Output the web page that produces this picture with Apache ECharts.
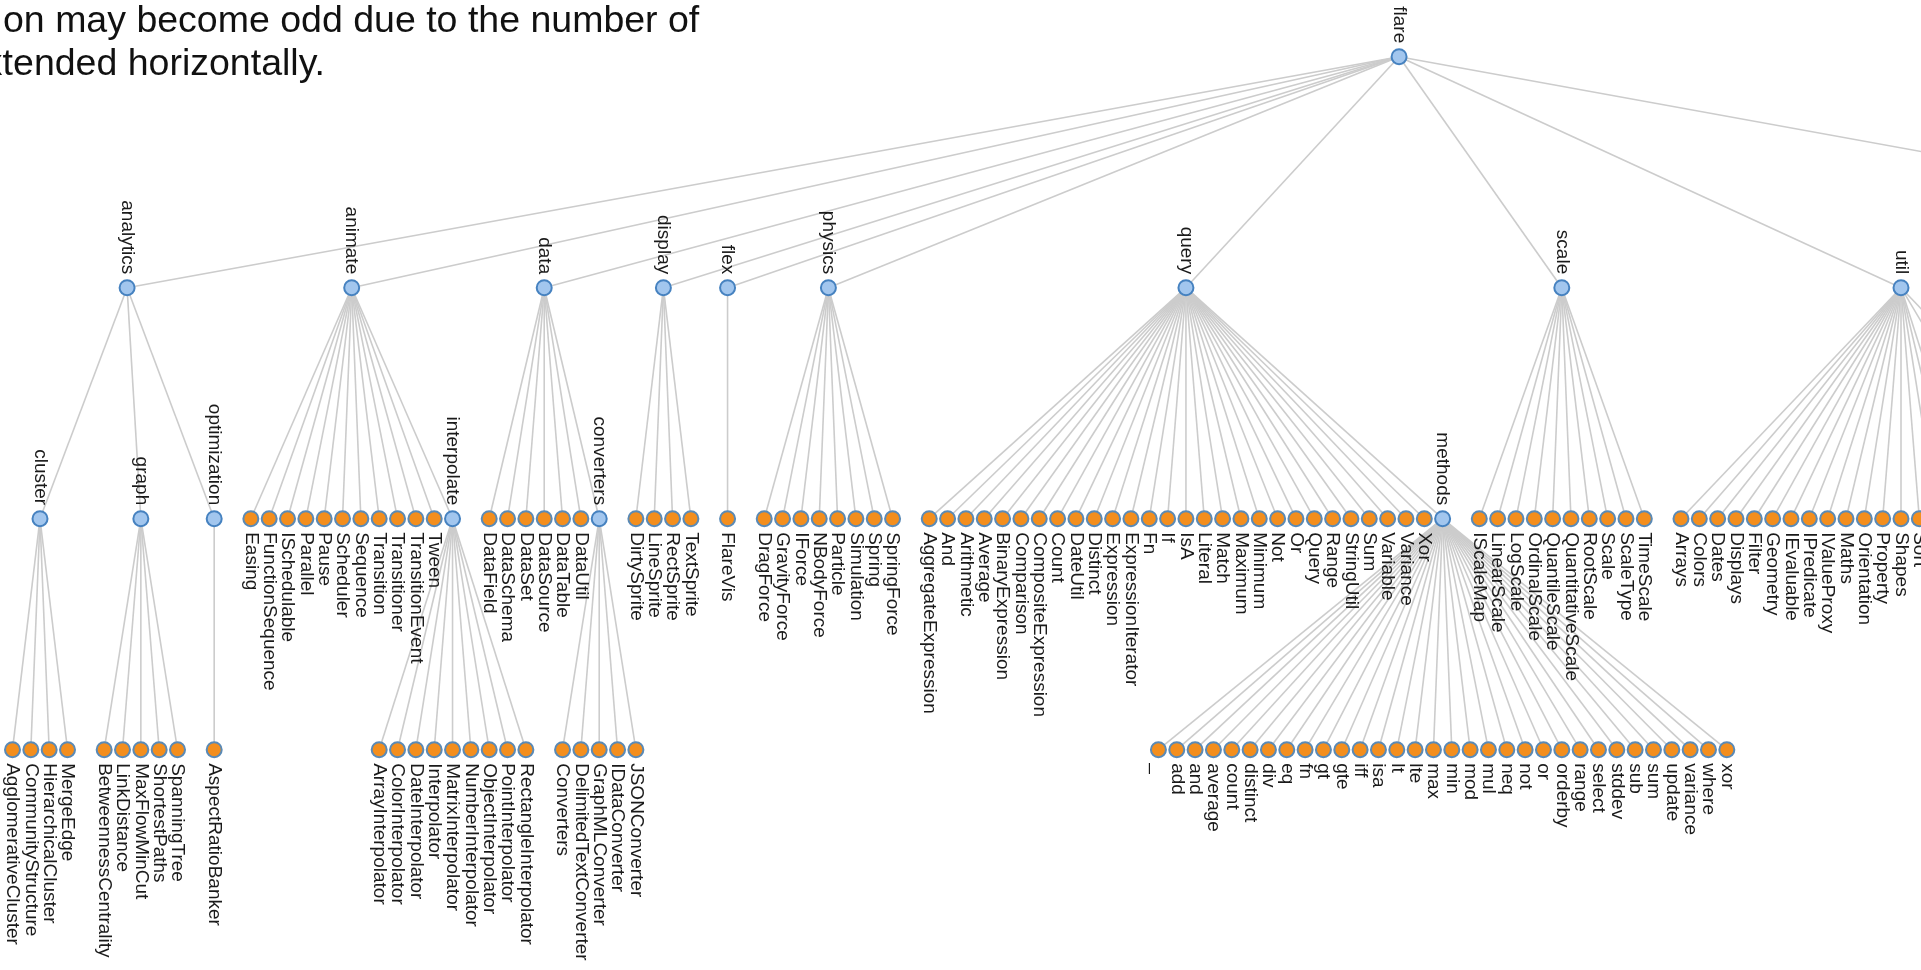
<!DOCTYPE html>
<html>
<head>
<meta charset="utf-8">
<title>flare tree</title>
<script src="https://cdn.jsdelivr.net/npm/echarts@6/dist/echarts.min.js"></script>
<style>
  html, body { margin: 0; padding: 0; background: #fff; }
  #main { width: 1921px; height: 970px; }
</style>
</head>
<body>
<div id="main"></div>
<script>
// --- tree data (leaves first, then sub-packages) ---
var clusterLeaves = ['AgglomerativeCluster', 'CommunityStructure', 'HierarchicalCluster', 'MergeEdge'];
var graphLeaves = ['BetweennessCentrality', 'LinkDistance', 'MaxFlowMinCut', 'ShortestPaths', 'SpanningTree'];
var optimizationLeaves = ['AspectRatioBanker'];
var animateLeaves = ['Easing', 'FunctionSequence', 'ISchedulable', 'Parallel', 'Pause', 'Scheduler', 'Sequence',
  'Transition', 'Transitioner', 'TransitionEvent', 'Tween'];
var interpolateLeaves = ['ArrayInterpolator', 'ColorInterpolator', 'DateInterpolator', 'Interpolator',
  'MatrixInterpolator', 'NumberInterpolator', 'ObjectInterpolator', 'PointInterpolator', 'RectangleInterpolator'];
var dataLeaves = ['DataField', 'DataSchema', 'DataSet', 'DataSource', 'DataTable', 'DataUtil'];
var convertersLeaves = ['Converters', 'DelimitedTextConverter', 'GraphMLConverter', 'IDataConverter', 'JSONConverter'];
var displayLeaves = ['DirtySprite', 'LineSprite', 'RectSprite', 'TextSprite'];
var flexLeaves = ['FlareVis'];
var physicsLeaves = ['DragForce', 'GravityForce', 'IForce', 'NBodyForce', 'Particle', 'Simulation', 'Spring', 'SpringForce'];
var queryLeaves = ['AggregateExpression', 'And', 'Arithmetic', 'Average', 'BinaryExpression', 'Comparison',
  'CompositeExpression', 'Count', 'DateUtil', 'Distinct', 'Expression', 'ExpressionIterator', 'Fn', 'If', 'IsA',
  'Literal', 'Match', 'Maximum', 'Minimum', 'Not', 'Or', 'Query', 'Range', 'StringUtil', 'Sum', 'Variable',
  'Variance', 'Xor'];
var methodsLeaves = ['_', 'add', 'and', 'average', 'count', 'distinct', 'div', 'eq', 'fn', 'gt', 'gte', 'iff', 'isa',
  'lt', 'lte', 'max', 'min', 'mod', 'mul', 'neq', 'not', 'or', 'orderby', 'range', 'select', 'stddev', 'sub', 'sum',
  'update', 'variance', 'where', 'xor'];
var scaleLeaves = ['IScaleMap', 'LinearScale', 'LogScale', 'OrdinalScale', 'QuantileScale', 'QuantitativeScale',
  'RootScale', 'Scale', 'ScaleType', 'TimeScale'];
var utilLeaves = ['Arrays', 'Colors', 'Dates', 'Displays', 'Filter', 'Geometry', 'IEvaluable', 'IPredicate',
  'IValueProxy', 'Maths', 'Orientation', 'Property', 'Shapes', 'Sort', 'Stats', 'Strings'];
var heapLeaves = ['FibonacciHeap', 'HeapNode'];
var mathLeaves = ['DenseMatrix', 'IMatrix', 'SparseMatrix'];
var paletteLeaves = ['ColorPalette', 'Palette', 'ShapePalette', 'SizePalette'];
var visLeaves = ['Visualization'];
var axisLeaves = ['Axes', 'Axis', 'AxisGridLine', 'AxisLabel', 'CartesianAxes'];
var controlsLeaves = ['AnchorControl', 'ClickControl', 'Control', 'ControlList', 'DragControl', 'ExpandControl',
  'HoverControl', 'IControl', 'PanZoomControl', 'SelectionControl', 'TooltipControl'];
var visDataLeaves = ['Data', 'DataList', 'DataSprite', 'EdgeSprite', 'NodeSprite', 'ScaleBinding', 'Tree', 'TreeBuilder'];
var renderLeaves = ['ArrowType', 'EdgeRenderer', 'IRenderer', 'ShapeRenderer'];
var eventsLeaves = ['DataEvent', 'SelectionEvent', 'TooltipEvent', 'VisualizationEvent'];
var legendLeaves = ['Legend', 'LegendItem', 'LegendRange'];
var operatorLeaves = ['IOperator', 'Operator', 'OperatorList', 'OperatorSequence', 'OperatorSwitch', 'SortOperator'];
var distortionLeaves = ['BifocalDistortion', 'Distortion', 'FisheyeDistortion'];
var encoderLeaves = ['ColorEncoder', 'Encoder', 'PropertyEncoder', 'ShapeEncoder', 'SizeEncoder'];
var filterLeaves = ['FisheyeTreeFilter', 'GraphDistanceFilter', 'VisibilityFilter'];
var labelLeaves = ['Labeler', 'RadialLabeler', 'StackedAreaLabeler'];
var layoutLeaves = ['AxisLayout', 'BundledEdgeRouter', 'CircleLayout', 'CirclePackingLayout', 'DendrogramLayout',
  'ForceDirectedLayout', 'IcicleTreeLayout', 'IndentedTreeLayout', 'Layout', 'NodeLinkTreeLayout', 'PieLayout',
  'RadialTreeLayout', 'RandomLayout', 'StackedAreaLayout', 'TreeMapLayout'];

var noteLines = ['on may become odd due to the number of', 'extended horizontally.'];

function branch(name, leafNames, subs) {
  var kids = leafNames.map(function (n) { return { name: n }; });
  return { name: name, children: kids.concat(subs || []) };
}

var treeData = branch('flare', [], [
  branch('analytics', [], [
    branch('cluster', clusterLeaves),
    branch('graph', graphLeaves),
    branch('optimization', optimizationLeaves)
  ]),
  branch('animate', animateLeaves, [branch('interpolate', interpolateLeaves)]),
  branch('data', dataLeaves, [branch('converters', convertersLeaves)]),
  branch('display', displayLeaves),
  branch('flex', flexLeaves),
  branch('physics', physicsLeaves),
  branch('query', queryLeaves, [branch('methods', methodsLeaves)]),
  branch('scale', scaleLeaves),
  branch('util', utilLeaves, [
    branch('heap', heapLeaves),
    branch('math', mathLeaves),
    branch('palette', paletteLeaves)
  ]),
  branch('vis', visLeaves, [
    branch('axis', axisLeaves),
    branch('controls', controlsLeaves),
    branch('data', visDataLeaves, [branch('render', renderLeaves)]),
    branch('events', eventsLeaves),
    branch('legend', legendLeaves),
    branch('operator', operatorLeaves, [
      branch('distortion', distortionLeaves),
      branch('encoder', encoderLeaves),
      branch('filter', filterLeaves),
      branch('label', labelLeaves),
      branch('layout', layoutLeaves)
    ])
  ])
]);

var chart = echarts.init(document.getElementById('main'));
var labelFont = '"Liberation Sans", Arial, sans-serif';

function makeOption(left, width) {
  return {
    animation: false,
    backgroundColor: '#fff',
    graphic: [
      { type: 'text', x: 3, y: 22, style: { text: noteLines[0], font: '37.5px ' + labelFont, fill: '#111', verticalAlign: 'middle' } },
      { type: 'text', x: -37, y: 65, style: { text: noteLines[1], font: '37.5px ' + labelFont, fill: '#111', verticalAlign: 'middle' } }
    ],
    series: [{
      type: 'tree',
      data: [treeData],
      orient: 'vertical',
      layout: 'orthogonal',
      left: left,
      width: width,
      top: 56.7,
      height: 924,
      initialTreeDepth: -1,
      expandAndCollapse: false,
      roam: false,
      symbol: 'circle',
      symbolSize: 15,
      itemStyle: { color: '#a2c6ee', borderColor: '#4682c0', borderWidth: 2 },
      lineStyle: { color: '#cccccc', width: 1.6, curveness: 0 },
      label: {
        position: 'top', rotate: -90, verticalAlign: 'middle', align: 'right',
        fontSize: 19, fontFamily: labelFont, color: '#1a1a1a', distance: 5
      },
      leaves: {
        itemStyle: { color: '#f38e1d', borderColor: '#5a8ab6', borderWidth: 2 },
        label: { position: 'bottom', rotate: -90, verticalAlign: 'middle', align: 'left' }
      },
      emphasis: { disabled: true }
    }]
  };
}

// first pass: lay out, then fit the horizontal box so two reference nodes land where the picture has them
chart.setOption(makeOption(0, 1000));
function layoutX(name) {
  var d = chart.getModel().getSeriesByIndex(0).getData();
  for (var i = 0; i < d.count(); i++) {
    if (d.getName(i) === name) return d.getItemLayout(i).x;
  }
  return 0;
}
var xa = layoutX('AgglomerativeCluster'), xb = layoutX('Shapes');
var s = (1901 - 12.5) / (xb - xa);
chart.setOption(makeOption(12.5 - xa * s, 1000 * s));

window.addEventListener('resize', function () { chart.resize(); });
</script>
</body>
</html>
